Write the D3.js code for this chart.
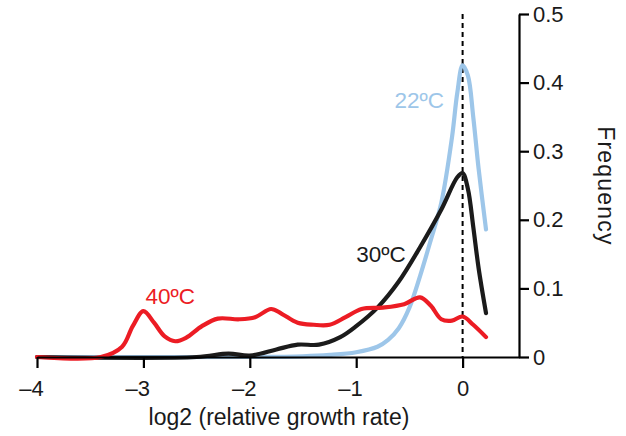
<!DOCTYPE html>
<html>
<head>
<meta charset="utf-8">
<script src="https://cdn.jsdelivr.net/npm/d3@7"></script>
<style>
  body { margin: 0; background: #fff; }
  svg { font-family: "Liberation Sans", Arial, sans-serif; }
</style>
</head>
<body>
<div class="container"></div>
<script>
// chart data (x = log2 relative growth rate, y = frequency)
const xTicks = [-4, -3, -2, -1, 0];
const yTicks = [0, 0.1, 0.2, 0.3, 0.4, 0.5];

const x22 = [-4, -2, -1.5, -1.25, -1, -0.8, -0.7, -0.6, -0.5, -0.4, -0.3, -0.2, -0.1, -0.05, 0, 0.05, 0.1, 0.15, 0.22];
const y22 = [0, 0, 0.001, 0.003, 0.007, 0.015, 0.025, 0.042, 0.072, 0.118, 0.17, 0.225, 0.32, 0.385, 0.425, 0.41, 0.35, 0.275, 0.186];

const x30 = [-4, -2.5, -2.2, -2.0, -1.75, -1.55, -1.35, -1.15, -1, -0.8, -0.6, -0.4, -0.2, -0.05, 0, 0.05, 0.1, 0.15, 0.22];
const y30 = [0, 0, 0.005, 0.002, 0.011, 0.018, 0.018, 0.029, 0.045, 0.072, 0.11, 0.16, 0.215, 0.262, 0.268, 0.245, 0.19, 0.13, 0.064];

const x40 = [-4, -3.4, -3.2, -3.1, -3.0, -2.9, -2.8, -2.7, -2.6, -2.45, -2.3, -2.1, -1.95, -1.8, -1.7, -1.55, -1.4, -1.25, -1.1, -0.95, -0.75, -0.55, -0.4, -0.3, -0.2, -0.1, 0, 0.1, 0.22];
const y40 = [0, 0, 0.015, 0.045, 0.067, 0.05, 0.03, 0.023, 0.028, 0.045, 0.056, 0.055, 0.058, 0.07, 0.063, 0.05, 0.047, 0.047, 0.058, 0.07, 0.072, 0.077, 0.087, 0.075, 0.055, 0.053, 0.059, 0.047, 0.029];

const seriesNames = ["22ºC", "30ºC", "40ºC"];
const seriesColors = ["#9dc6e9", "#1b1b1b", "#ec1c24"];

const width = 626;
const height = 436;

const svg = d3.select(".container")
  .append("svg")
  .attr("width", width)
  .attr("height", height);

const xScale = d3.scaleLinear()
  .domain([-4, 0.53])
  .range([37, 519]);

const yScale = d3.scaleLinear()
  .domain([0, 0.5])
  .range([357, 14]);

// dashed line at zero
svg.append("line")
  .attr("x1", xScale(0))
  .attr("x2", xScale(0))
  .attr("y1", yScale(0.5))
  .attr("y2", yScale(0))
  .attr("stroke", "#000")
  .attr("stroke-width", 2)
  .attr("stroke-dasharray", "5,4");

// the curves
const line = d3.line()
  .x(d => xScale(d[0]))
  .y(d => yScale(d[1]))
  .curve(d3.curveCatmullRom.alpha(0.5));

const series = [
  d3.zip(x22, y22),
  d3.zip(x30, y30),
  d3.zip(x40, y40)
];

svg.append("g")
  .selectAll("path")
  .data(series)
  .join("path")
  .attr("d", d => line(d))
  .attr("fill", "none")
  .attr("stroke", (d, i) => seriesColors[i])
  .attr("stroke-width", 4.2)
  .attr("stroke-linejoin", "round")
  .attr("stroke-linecap", "round");

// bottom axis
const xAxis = svg.append("g")
  .attr("transform", `translate(0, ${yScale(0)})`)
  .call(d3.axisBottom(xScale)
    .tickValues(xTicks)
    .tickSize(11)
    .tickSizeOuter(0)
    .tickPadding(12)
    .tickFormat(d => d < 0 ? "\u2013" + Math.abs(d) : d));
xAxis.select(".domain").attr("stroke-width", 2.2);
xAxis.selectAll(".tick line").attr("stroke-width", 2.2);
xAxis.selectAll("text")
  .attr("font-size", 22)
  .attr("fill", "#1a1a1a")
  .attr("dx", d => d < 0 ? "-0.278em" : 0); // keep the digit under the tick

// right axis
const yAxis = svg.append("g")
  .attr("transform", `translate(${xScale.range()[1]}, 0)`)
  .call(d3.axisRight(yScale)
    .tickValues(yTicks)
    .tickSize(10)
    .tickSizeOuter(0)
    .tickPadding(4)
    .tickFormat(d => d === 0 ? "0" : d3.format(".1f")(d)));
yAxis.select(".domain").attr("stroke-width", 2.2);
yAxis.selectAll(".tick line").attr("stroke-width", 2.2);
yAxis.selectAll("text").attr("font-size", 22).attr("fill", "#1a1a1a");

// axis titles
svg.append("text")
  .attr("x", 279)
  .attr("y", 425)
  .attr("text-anchor", "middle")
  .attr("font-size", 23)
  .attr("fill", "#1a1a1a")
  .text("log2 (relative growth rate)");

svg.append("text")
  .attr("transform", "translate(598, 186) rotate(90)")
  .attr("text-anchor", "middle")
  .attr("font-size", 23)
  .attr("letter-spacing", 1.2)
  .attr("fill", "#1a1a1a")
  .text("Frequency");

// series labels
const labelPos = [[-0.64, 0.363], [-1.0, 0.139], [-2.98, 0.077]];
svg.append("g")
  .selectAll("text")
  .data(seriesNames)
  .join("text")
  .attr("x", (d, i) => xScale(labelPos[i][0]))
  .attr("y", (d, i) => yScale(labelPos[i][1]))
  .attr("font-size", 22.5)
  .attr("fill", (d, i) => seriesColors[i])
  .text(d => d);
</script>
</body>
</html>
